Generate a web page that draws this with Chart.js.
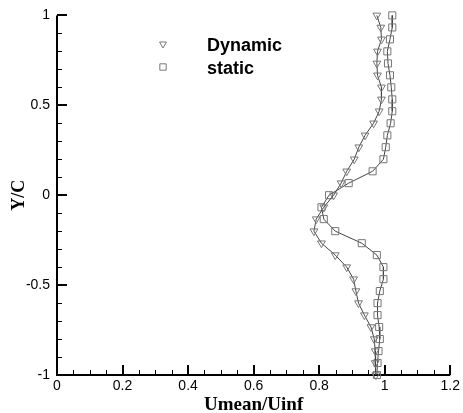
<!DOCTYPE html>
<html>
<head>
<meta charset="utf-8">
<script src="https://cdn.jsdelivr.net/npm/chart.js@4.4.0/dist/chart.umd.min.js"></script>
<style>
  html, body { margin: 0; padding: 0; background: #fff; }
</style>
</head>
<body>
<canvas id="chart" width="463" height="413"></canvas>
<script>
// Y/C stations (shared by both profiles)
const yPos = [1, 0.933, 0.867, 0.8, 0.733, 0.667, 0.6, 0.533, 0.467, 0.4, 0.333, 0.267, 0.2, 0.133, 0.067, 0,
              -0.067, -0.133, -0.2, -0.267, -0.333, -0.4, -0.467, -0.533, -0.6, -0.667, -0.733, -0.8, -0.867, -0.933, -1];
// Umean/Uinf
const dynamicU = [0.976, 0.988, 0.990, 0.978, 0.976, 0.978, 0.990, 0.990, 0.983, 0.966, 0.940, 0.921, 0.907, 0.884, 0.867, 0.844,
                  0.814, 0.791, 0.784, 0.807, 0.849, 0.884, 0.905, 0.912, 0.920, 0.938, 0.958, 0.968, 0.971, 0.971, 0.973];
const staticU = [1.023, 1.023, 1.016, 1.008, 1.010, 1.016, 1.020, 1.023, 1.023, 1.018, 1.008, 1.003, 0.996, 0.963, 0.890, 0.830,
                 0.807, 0.814, 0.849, 0.930, 0.976, 0.996, 0.996, 0.985, 0.978, 0.978, 0.983, 0.985, 0.981, 0.978, 0.976];

const seriesLabels = ['Dynamic', 'static'];
const xTicks = [0, 0.2, 0.4, 0.6, 0.8, 1, 1.2];
const xTickLabels = ['0', '0.2', '0.4', '0.6', '0.8', '1', '1.2'];
const yTicks = [-1, -0.5, 0, 0.5, 1];
const yTickLabels = ['-1', '-0.5', '0', '0.5', '1'];

const toPoints = (xs) => xs.map((v, i) => ({ x: v, y: yPos[i] }));

// inward major/minor tick marks plus the two axis lines
const axisTicks = {
    id: 'axisTicks',
    beforeDatasetsDraw(chart) {
        const { ctx, chartArea: a, scales: { x, y } } = chart;
        ctx.save();
        ctx.strokeStyle = '#000';

        ctx.lineWidth = 1;
        ctx.beginPath();
        for (let k = 0; k <= 24; k++) {
            const px = Math.round(x.getPixelForValue(k * 0.05)) + 0.5;
            ctx.moveTo(px, a.bottom);
            ctx.lineTo(px, a.bottom - 5);
        }
        for (let k = 0; k <= 20; k++) {
            const py = Math.round(y.getPixelForValue(-1 + k * 0.1)) + 0.5;
            ctx.moveTo(a.left, py);
            ctx.lineTo(a.left + 5, py);
        }
        ctx.stroke();

        ctx.lineWidth = 2;
        ctx.beginPath();
        xTicks.forEach(v => {
            const px = Math.round(x.getPixelForValue(v));
            ctx.moveTo(px, a.bottom);
            ctx.lineTo(px, a.bottom - 10);
        });
        yTicks.forEach(v => {
            const py = Math.round(y.getPixelForValue(v));
            ctx.moveTo(a.left, py);
            ctx.lineTo(a.left + 10, py);
        });
        ctx.moveTo(a.left, a.top);
        ctx.lineTo(a.left, a.bottom);
        ctx.lineTo(a.right, a.bottom);
        ctx.stroke();
        ctx.restore();
    }
};

// small legend inside the plot
const innerLegend = {
    id: 'innerLegend',
    afterDraw(chart) {
        const ctx = chart.ctx;
        ctx.save();
        chart.data.datasets.forEach((ds, i) => {
            const my = 44 + i * 23;
            ctx.strokeStyle = ds.pointBorderColor;
            ctx.fillStyle = 'rgba(0,0,0,0)';
            ctx.lineWidth = 1;
            Chart.helpers.drawPoint(ctx, {
                pointStyle: ds.pointStyle,
                rotation: ds.pointRotation,
                radius: ds.pointRadius - 0.5,
                borderWidth: 1
            }, 163, my);
            ctx.fillStyle = '#000';
            ctx.font = 'bold 18px "Liberation Sans", Arial, sans-serif';
            ctx.textBaseline = 'alphabetic';
            ctx.fillText(ds.label, 207, my + 6.5);
        });
        ctx.restore();
    }
};

const tickFont = { family: '"Liberation Sans", Arial, sans-serif', size: 14 };

new Chart(document.getElementById('chart'), {
    type: 'scatter',
    data: {
        datasets: [
            {
                label: seriesLabels[0],
                data: toPoints(dynamicU),
                showLine: true,
                borderColor: '#444',
                borderWidth: 1,
                pointStyle: 'triangle',
                pointRotation: 180,
                pointRadius: 4.5,
                pointBorderColor: '#777',
                pointBackgroundColor: 'rgba(0,0,0,0)',
                pointBorderWidth: 1,
                clip: false
            },
            {
                label: seriesLabels[1],
                data: toPoints(staticU),
                showLine: true,
                borderColor: '#444',
                borderWidth: 1,
                pointStyle: 'rect',
                pointRadius: 5,
                pointBorderColor: '#777',
                pointBackgroundColor: 'rgba(0,0,0,0)',
                pointBorderWidth: 1,
                clip: false
            }
        ]
    },
    options: {
        responsive: false,
        animation: false,
        layout: { padding: { left: 0, right: 10, top: 14, bottom: 0 } },
        plugins: {
            legend: { display: false },
            tooltip: { enabled: false }
        },
        scales: {
            x: {
                type: 'linear',
                min: 0,
                max: 1.2,
                afterBuildTicks: s => { s.ticks = xTicks.map(v => ({ value: v })); },
                afterFit: s => { s.height = 38; },
                grid: { display: false, drawTicks: false },
                border: { display: false },
                ticks: {
                    color: '#000',
                    font: tickFont,
                    padding: 3,
                    maxRotation: 0,
                    callback: (v, i) => xTickLabels[i]
                },
                title: {
                    display: true,
                    text: 'Umean/Uinf',
                    color: '#000',
                    font: { family: '"Liberation Serif", "Times New Roman", serif', weight: 'bold', size: 19, lineHeight: 0.8 },
                    padding: 0
                }
            },
            y: {
                type: 'linear',
                min: -1,
                max: 1,
                afterBuildTicks: s => { s.ticks = yTicks.map(v => ({ value: v })); },
                afterFit: s => { s.width = 57; },
                grid: { display: false, drawTicks: false },
                border: { display: false },
                ticks: {
                    color: '#000',
                    font: tickFont,
                    padding: 7,
                    callback: (v, i) => yTickLabels[i]
                },
                title: {
                    display: true,
                    text: 'Y/C',
                    color: '#000',
                    font: { family: '"Liberation Serif", "Times New Roman", serif', weight: 'bold', size: 18, lineHeight: 1 },
                    padding: { top: 10, bottom: 0 }
                }
            }
        }
    },
    plugins: [axisTicks, innerLegend]
});
</script>
</body>
</html>
